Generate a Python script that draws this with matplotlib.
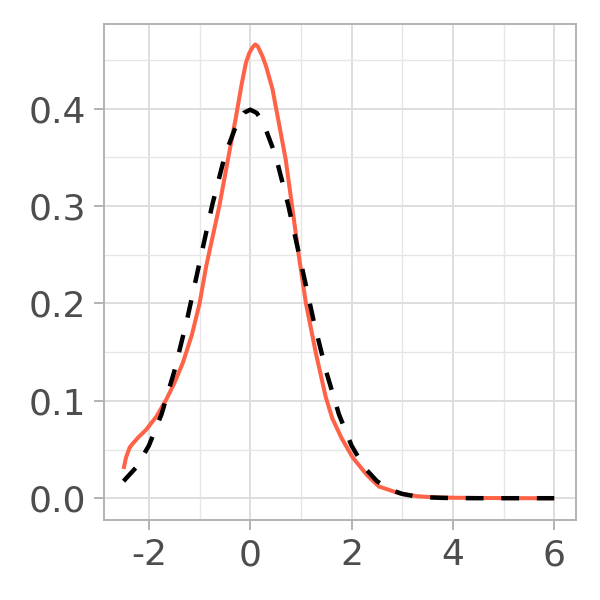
#!/usr/bin/env python3
# Density of a sample (solid) against a standard normal curve (dashed).

import matplotlib.pyplot as plt
from matplotlib.ticker import MultipleLocator

# sample density
dens_x = [-2.5, -2.45, -2.38, -2.32, -2.2, -2.06, -1.85, -1.66, -1.5, -1.33,
          -1.15, -1.0, -0.87, -0.61, -0.45, -0.28, -0.17, -0.085, -0.02, 0.045,
          0.1, 0.15, 0.24, 0.31, 0.44, 0.70, 0.97, 1.10, 1.30, 1.49, 1.62,
          1.80, 2.02, 2.30, 2.54, 2.94, 3.3, 3.6, 4.0, 4.5, 5.0, 5.5, 6.0]
dens_y = [0.030, 0.042, 0.052, 0.056, 0.063, 0.070, 0.084, 0.101, 0.118, 0.139,
          0.168, 0.200, 0.238, 0.300, 0.345, 0.392, 0.425, 0.447, 0.457, 0.463,
          0.466, 0.464, 0.454, 0.444, 0.420, 0.348, 0.245, 0.200, 0.148, 0.104,
          0.082, 0.062, 0.042, 0.024, 0.012, 0.005, 0.002, 0.001, 0.0005,
          0.0002, 0.0001, 0.0, 0.0]

# reference normal curve
norm_x = [-2.5, -2.25, -2.0, -1.75, -1.5, -1.25, -1.0, -0.75, -0.5, -0.25,
          -0.125, 0.0, 0.125, 0.25, 0.5, 0.75, 1.0, 1.25, 1.5, 1.75, 2.0,
          2.25, 2.5, 2.75, 3.0, 3.25, 3.5, 3.75, 4.0, 4.5, 5.0, 5.5, 6.0]
norm_y = [0.0175, 0.0317, 0.054, 0.0863, 0.130, 0.1826, 0.242, 0.3011, 0.352,
          0.3867, 0.3958, 0.399, 0.3958, 0.3867, 0.352, 0.3011, 0.242, 0.1826,
          0.130, 0.0863, 0.054, 0.0317, 0.0175, 0.0091, 0.0044, 0.002, 0.0009,
          0.0004, 0.0001, 0.0, 0.0, 0.0, 0.0]

grey = "#4D4D4D"
fig = plt.figure(figsize=(6, 6), dpi=100)
ax = fig.add_axes([0.173, 0.133, 0.787, 0.827])

ax.plot(dens_x, dens_y, color="#FF6347", lw=2.9, solid_capstyle="butt",
        solid_joinstyle="round", zorder=3)
ax.plot(norm_x, norm_y, color="black", lw=3.2, dashes=(4, 4),
        dash_capstyle="butt", dash_joinstyle="round", zorder=4)

ax.set_xlim(-2.89, 6.43)
ax.set_ylim(-0.0226, 0.487)
ax.xaxis.set_minor_locator(MultipleLocator(1))
ax.yaxis.set_minor_locator(MultipleLocator(0.05))
ax.set_xticks([-2, 0, 2, 4, 6])
ax.set_xticklabels(["-2", "0", "2", "4", "6"])
ax.set_yticks([0.0, 0.1, 0.2, 0.3, 0.4])
ax.set_yticklabels(["0.0", "0.1", "0.2", "0.3", "0.4"])

ax.grid(which="major", color="#DEDEDE", lw=1.4, zorder=0)
ax.grid(which="minor", color="#E6E6E6", lw=1.0, zorder=0)
ax.set_axisbelow(True)
ax.tick_params(which="major", direction="out", length=7, width=1.4,
               color="#B3B3B3", labelcolor=grey, labelsize=26, pad=6)
ax.tick_params(which="minor", length=0)
for s in ax.spines.values():
    s.set_color("#B3B3B3")
    s.set_linewidth(1.4)

fig.savefig("out.png", dpi=100)
